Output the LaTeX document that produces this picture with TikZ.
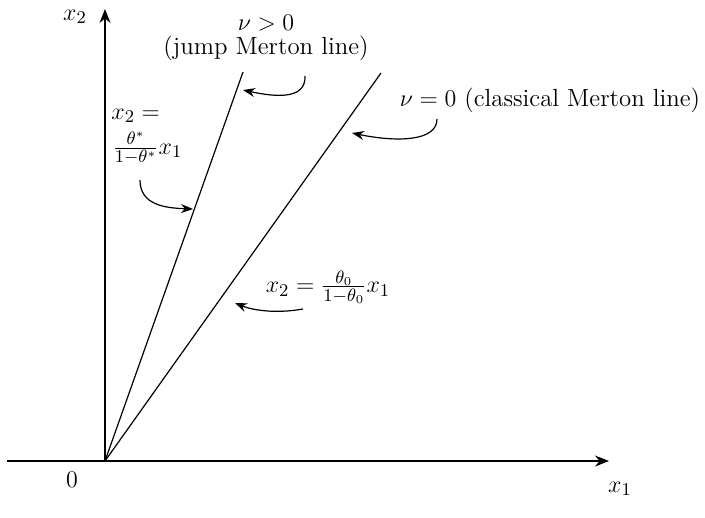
\documentclass[tikz,border=0pt]{standalone}
\usetikzlibrary{arrows.meta}
\begin{document}
\begin{tikzpicture}[x=0.5pt,y=-0.5pt,
  axis/.style={line width=0.6pt,-{Stealth[length=7pt,width=5.5pt]}},
  ray/.style={line width=0.6pt},
  pointer/.style={line width=0.6pt,-{Stealth[length=6pt,width=4.5pt]}},
  lbl/.style={inner sep=0pt,font=\fontsize{12.4}{15}\selectfont}]
\useasboundingbox (0,0) rectangle (705,518);
% axes
\coordinate (O) at (105,461);
\coordinate (xs) at (7,461);
\coordinate (xe) at (609,461);
\coordinate (ye) at (105,9);
\draw[axis] (xs) -- (xe);
\draw[axis] (O) -- (ye);
\node[lbl] (x1) at (620,489) {$x_1$};
\node[lbl] (x2) at (75,17) {$x_2$};
\node[lbl] (zero) at (72,480) {$0$};
% rays
\coordinate (A) at (243,72);
\coordinate (B) at (381,73);
\draw[ray] (O) -- (A);
\draw[ray] (O) -- (B);
% labels
\node[lbl,anchor=base] (nupos) at (266,31) {$\nu > 0$};
\node[lbl,anchor=base] (jump) at (266,55) {(jump Merton line)};
\node[lbl] (nuzero) at (550,100) {$\nu = 0$ (classical Merton line)};
\node[lbl,anchor=west] (eqstarA) at (111,116) {$x_2 =$};
\node[lbl,anchor=west] (eqstarB) at (112,148) {$\frac{\theta^*}{1-\theta^*}x_1$};
\node[lbl] (eqzero) at (328,287) {$x_2 = \frac{\theta_0}{1-\theta_0}x_1$};
% pointers
\coordinate (p1s) at (305,76);
\coordinate (p1e) at (243,90);
\draw[pointer] (p1s) .. controls (306,100) and (275,97) .. (p1e);
\coordinate (p2s) at (140,180);
\coordinate (p2e) at (193,209);
\draw[pointer] (p2s) .. controls (140,205) and (165,208) .. (p2e);
\coordinate (p3s) at (437,119);
\coordinate (p3e) at (352,133);
\draw[pointer] (p3s) .. controls (437,142) and (395,142) .. (p3e);
\coordinate (p4s) at (303,309);
\coordinate (p4e) at (235,303);
\draw[pointer] (p4s) .. controls (275,314) and (252,310) .. (p4e);
\end{tikzpicture}
\end{document}
